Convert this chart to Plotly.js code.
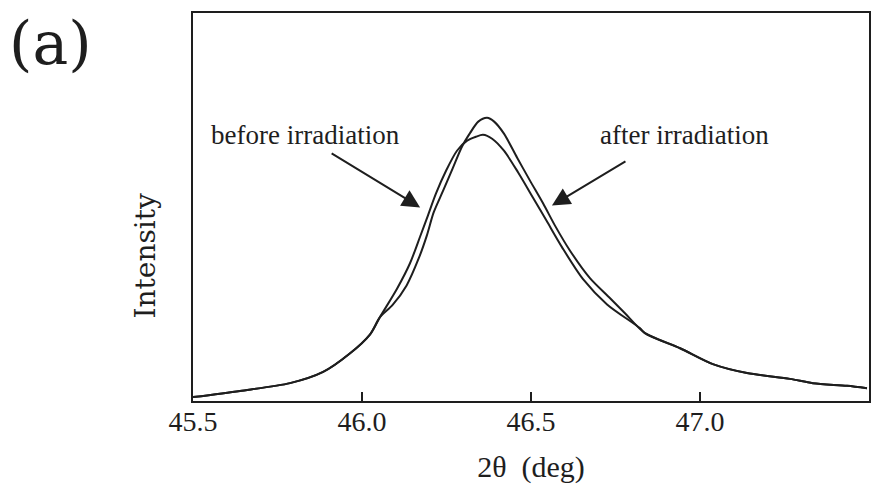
<!DOCTYPE html>
<html>
<head>
<meta charset="utf-8">
<script src="https://cdn.plot.ly/plotly-3.0.1.min.js"></script>
<style>
  html, body { margin: 0; padding: 0; background: #fff; }
  #chart { width: 889px; height: 489px; }
</style>
</head>
<body>
<div id="chart"></div>
<script>
// Diffraction peak profile, 2θ in degrees, intensity in arbitrary units
const beforeTheta = [45.500, 45.639, 45.787, 45.885, 45.962, 46.024, 46.053, 46.104, 46.142, 46.172,
  46.195, 46.219, 46.249, 46.281, 46.311, 46.337, 46.358, 46.385, 46.420, 46.462, 46.506, 46.547,
  46.592, 46.654, 46.725, 46.822, 46.837, 46.941, 47.038, 47.139, 47.266, 47.334, 47.435, 47.494];
const beforeIntensity = [1.0, 2.6, 4.6, 7.5, 12.1, 17.2, 21.6, 29.0, 35.5, 42.4,
  47.8, 53.5, 59.4, 64.5, 67.1, 68.1, 68.6, 67.6, 64.5, 58.9, 52.4, 46.3,
  39.6, 31.4, 24.9, 18.8, 17.5, 13.6, 9.5, 7.2, 5.7, 4.6, 3.9, 3.3];

const afterTheta = [45.500, 45.639, 45.787, 45.885, 45.962, 46.024, 46.053, 46.090, 46.132, 46.168,
  46.192, 46.212, 46.240, 46.268, 46.296, 46.320, 46.344, 46.370, 46.391, 46.420, 46.459, 46.497,
  46.536, 46.571, 46.615, 46.675, 46.734, 46.778, 46.837, 46.941, 47.038, 47.139, 47.266, 47.334,
  47.435, 47.494];
const afterIntensity = [1.0, 2.6, 4.6, 7.5, 12.1, 17.2, 21.6, 24.7, 29.8, 36.8,
  42.7, 48.6, 54.2, 59.9, 65.6, 69.1, 72.0, 73.0, 72.0, 68.9, 62.7, 56.8,
  50.9, 45.2, 38.8, 31.6, 26.5, 22.6, 17.5, 13.6, 9.5, 7.2, 5.7, 4.6,
  3.9, 3.3];

const tickValues = [45.5, 46.0, 46.5, 47.0, 47.5];
const tickLabels = ['45.5', '46.0', '46.5', '47.0', '47.5'];

const ink = '#1e1e1e';
const serif = 'Liberation Serif, Times New Roman, serif';
const wideSerif = 'DejaVu Serif, serif';

const traces = [
  {
    x: beforeTheta, y: beforeIntensity, name: 'before irradiation',
    mode: 'lines', line: { color: ink, width: 2, shape: 'spline', smoothing: 0.8 }
  },
  {
    x: afterTheta, y: afterIntensity, name: 'after irradiation',
    mode: 'lines', line: { color: ink, width: 2, shape: 'spline', smoothing: 0.8 }
  }
];

const layout = {
  width: 889, height: 489,
  margin: { l: 193, r: 20, t: 13, b: 88 },
  paper_bgcolor: '#fff', plot_bgcolor: '#fff',
  showlegend: false,
  xaxis: {
    range: [45.5, 47.5],
    tickvals: tickValues, ticktext: tickLabels,
    ticks: 'inside', ticklen: 9, tickwidth: 2, tickcolor: ink,
    showline: true, linecolor: ink, linewidth: 2, mirror: true,
    showgrid: false, zeroline: false,
    tickfont: { family: serif, size: 28, color: ink },
    ticklabelstandoff: -6,
    title: { text: '2θ  (deg)', font: { family: serif, size: 30, color: ink }, standoff: 20 }
  },
  yaxis: {
    range: [0, 100],
    showticklabels: false, ticks: '',
    showline: true, linecolor: ink, linewidth: 2, mirror: true,
    showgrid: false, zeroline: false
  },
  annotations: [
    {
      text: 'Intensity', xref: 'paper', yref: 'paper', x: -0.071, y: 0.375,
      xanchor: 'center', yanchor: 'middle', textangle: -90, showarrow: false,
      font: { family: wideSerif, size: 28, color: ink }
    },
    {
      text: '(a)', xref: 'paper', yref: 'paper', x: -0.2115, y: 0.922,
      xanchor: 'center', yanchor: 'middle', showarrow: false,
      font: { family: wideSerif, size: 60, color: ink }
    },
    {
      text: 'before irradiation', xref: 'x', yref: 'y', x: 45.833, y: 68.6,
      showarrow: false, font: { family: serif, size: 27, color: ink }
    },
    {
      text: 'after irradiation', xref: 'x', yref: 'y', x: 46.953, y: 68.6,
      showarrow: false, font: { family: serif, size: 27, color: ink }
    },
    {
      text: '', xref: 'x', yref: 'y', x: 46.172, y: 49.9,
      showarrow: true, ax: -90, ay: -55,
      arrowhead: 2, arrowsize: 1.8, arrowwidth: 2, arrowcolor: ink
    },
    {
      text: '', xref: 'x', yref: 'y', x: 46.562, y: 50.4,
      showarrow: true, ax: 75, ay: -45,
      arrowhead: 2, arrowsize: 1.8, arrowwidth: 2, arrowcolor: ink
    }
  ]
};

Plotly.newPlot('chart', traces, layout, { staticPlot: true, displayModeBar: false });
</script>
</body>
</html>
